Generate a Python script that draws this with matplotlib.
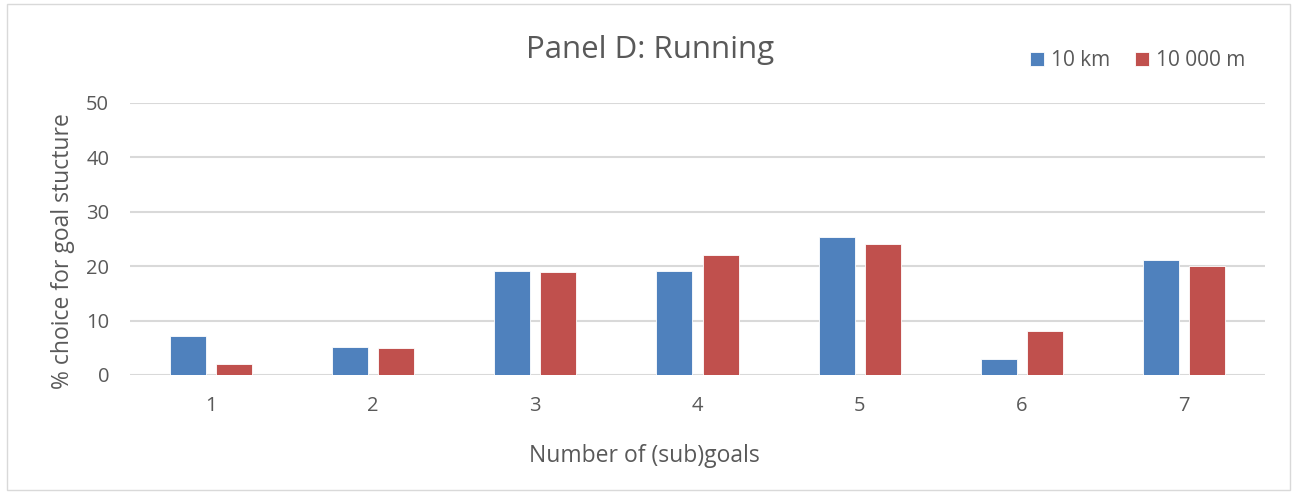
import matplotlib
matplotlib.use("Agg")
import matplotlib.pyplot as plt
import numpy as np
from matplotlib.patches import Rectangle

categories = ["1", "2", "3", "4", "5", "6", "7"]
series_names = ["10 km", "10 000 m"]
values_km = [7.1, 5.1, 19.2, 19.2, 25.3, 3.0, 21.2]
values_m = [2.0, 5.0, 19.0, 22.0, 24.0, 8.0, 20.0]
y_ticks = [0, 10, 20, 30, 40, 50]

BLUE = "#4F81BD"
RED = "#C0504D"
TEXT = "#595959"
GRID = "#D9D9D9"

plt.rcParams["font.family"] = ["Open Sans", "DejaVu Sans"]

W, H = 1295, 493
fig = plt.figure(figsize=(W / 100, H / 100), dpi=100)
fig.patch.set_facecolor("white")

# chart-area border
fig.add_artist(Rectangle((7 / W, 3 / H), (1290 - 7) / W, (489 - 3) / H,
                         transform=fig.transFigure, fill=False,
                         edgecolor=GRID, linewidth=1.0))

ax = fig.add_axes([130 / W, 1 - 375 / H, 1135 / W, 272 / H])
x = np.arange(len(categories))
bw = 0.222
off = bw / 2 + 0.031
ax.bar(x - off, values_km, bw, color=BLUE, edgecolor="white", linewidth=0.6,
       label=series_names[0], zorder=3)
ax.bar(x + off, values_m, bw, color=RED, edgecolor="white", linewidth=0.6,
       label=series_names[1], zorder=3)

ax.set_xlim(-0.5, len(categories) - 0.5)
ax.set_ylim(0, 50)
ax.set_yticks(y_ticks)
ax.set_xticks(x)
ax.set_xticklabels(categories)
ax.yaxis.grid(True, color=GRID, linewidth=1.5, zorder=0)
ax.set_axisbelow(True)
for s in ax.spines.values():
    s.set_visible(False)
ax.tick_params(axis="both", length=0, labelsize=14.5, labelcolor=TEXT)
ax.tick_params(axis="x", pad=15)
ax.tick_params(axis="y", pad=15)

fig.text(650 / W, 1 - 50 / H, "Panel D: Running", ha="center", va="center",
         fontsize=22.5, color=TEXT)
fig.text(644 / W, 1 - 456 / H, "Number of (sub)goals", ha="center",
         va="center", fontsize=16.5, color=TEXT)
fig.text(63 / W, 1 - 251 / H, "% choice for goal stucture", ha="center",
         va="center", rotation=90, fontsize=16.5, color=TEXT)

leg = fig.legend(loc="center", bbox_to_anchor=(1138 / W, 1 - 61 / H), ncol=2,
                 frameon=False, fontsize=15, handlelength=0.65, handleheight=0.65,
                 handletextpad=0.35, columnspacing=1.2, labelcolor=TEXT)

fig.savefig("out.png", dpi=100, facecolor="white")
